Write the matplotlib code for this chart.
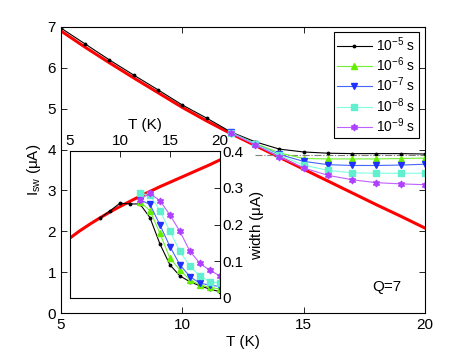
import numpy as np
import matplotlib
matplotlib.use("Agg")
import matplotlib.pyplot as plt

plt.rcParams['font.family'] = ['Liberation Sans', 'DejaVu Sans']
plt.rcParams['mathtext.fontset'] = 'custom'
plt.rcParams['mathtext.rm'] = 'Liberation Sans'
plt.rcParams['mathtext.it'] = 'Liberation Sans:italic'
plt.rcParams['mathtext.default'] = 'regular'

# DATOS
T_full = np.arange(5, 21)
T_hi = np.arange(12, 21)

# curva roja principal (Isw teorica)
isw_red = [6.90, 6.50, 6.12, 5.75, 5.39, 5.03, 4.70, 4.39, 4.10, 3.81,
           3.52, 3.23, 2.94, 2.65, 2.37, 2.08]
# 1e-5 s (desde T = 5)
isw_k = [6.97, 6.58, 6.19, 5.82, 5.46, 5.09, 4.77, 4.43, 4.19, 4.01,
         3.94, 3.91, 3.90, 3.90, 3.90, 3.89]
# desde T = 12
isw_g = [4.42, 4.15, 3.92, 3.78, 3.77, 3.77, 3.77, 3.78, 3.79]
isw_b = [4.42, 4.13, 3.88, 3.71, 3.63, 3.61, 3.61, 3.62, 3.64]
isw_c = [4.41, 4.13, 3.86, 3.62, 3.49, 3.43, 3.42, 3.42, 3.42]
isw_m = [4.40, 4.12, 3.82, 3.55, 3.37, 3.26, 3.19, 3.16, 3.14]
isw_sat = 3.875

# inset: ancho
w_red = [0.163, 0.183, 0.201, 0.218, 0.234, 0.249, 0.263, 0.277, 0.290,
         0.303, 0.315, 0.327, 0.339, 0.351, 0.363, 0.376]
T_wk = np.arange(8, 21)
w_k = [0.217, 0.237, 0.258, 0.256, 0.256, 0.219, 0.147, 0.090, 0.060,
       0.044, 0.033, 0.024, 0.017]
w_g = [0.262, 0.238, 0.176, 0.108, 0.076, 0.049, 0.035, 0.029, 0.024]
w_b = [0.267, 0.255, 0.199, 0.140, 0.090, 0.058, 0.040, 0.035, 0.031]
w_c = [0.285, 0.280, 0.238, 0.181, 0.127, 0.086, 0.060, 0.044, 0.040]
w_m = [0.268, 0.285, 0.265, 0.226, 0.181, 0.127, 0.094, 0.075, 0.060]

labels = [r'10$^{-5}$ s', r'10$^{-6}$ s', r'10$^{-7}$ s', r'10$^{-8}$ s', r'10$^{-9}$ s']
line_cols = ['k', '#70f030', '#4466ff', '#80ffe0', '#c060ff']
mk_cols = ['k', '#66ee00', '#2030ff', '#60f0d0', '#b040ff']
markers = ['.', '^', 'v', 's', (6, 1, 0)]
msizes = [3.5, 5, 5, 4.5, 5]

fig = plt.figure(figsize=(4.69, 3.53), dpi=100)
ax = fig.add_axes([0.130, 0.113, 0.776, 0.811])

ax.plot(T_full, isw_red, color='red', linewidth=2.2, zorder=1)
ax.plot([13, 20], [isw_sat, isw_sat], color='gray', linestyle='-.', linewidth=0.8, zorder=1)

series = [(T_full, isw_k), (T_hi, isw_g), (T_hi, isw_b), (T_hi, isw_c), (T_hi, isw_m)]
for i, (tt, yy) in enumerate(series):
    ax.plot(tt, yy, color=line_cols[i], marker=markers[i], markersize=msizes[i],
            markerfacecolor=mk_cols[i], markeredgecolor=mk_cols[i],
            linewidth=0.8, label=labels[i], zorder=2)

ax.set_xlim(5, 20)
ax.set_ylim(0, 7)
ax.set_xticks([5, 10, 15, 20])
ax.set_yticks(range(0, 8))
ax.tick_params(direction='in', top=True, right=True, labelsize=11, length=4, width=0.6)
ax.set_xlabel('T (K)', fontsize=11, labelpad=2)
ax.set_ylabel(r'I$_{sw}$ ($\mu$A)', fontsize=11, labelpad=3)
ax.text(17.85, 0.64, 'Q=7', fontsize=11, va='center', ha='left')

leg = ax.legend(loc='upper right', bbox_to_anchor=(0.983, 0.983), borderaxespad=0,
                fontsize=10, fancybox=False, edgecolor='k', framealpha=1,
                handlelength=2.5, handletextpad=0.3, labelspacing=0.12,
                borderpad=0.25)
leg.get_frame().set_linewidth(0.8)

# INSET
axi = fig.add_axes([0.149, 0.156, 0.320, 0.416])
axi.plot(T_full, w_red, color='red', linewidth=2.2, zorder=1)
wseries = [(T_wk, w_k), (T_hi, w_g), (T_hi, w_b), (T_hi, w_c), (T_hi, w_m)]
for i, (tt, yy) in enumerate(wseries):
    axi.plot(tt, yy, color=line_cols[i], marker=markers[i], markersize=msizes[i],
             markerfacecolor=mk_cols[i], markeredgecolor=mk_cols[i],
             linewidth=0.8, zorder=2)
axi.set_xlim(5, 20)
axi.set_ylim(0, 0.4)
axi.set_xticks([5, 10, 15, 20])
axi.set_yticks([0, 0.1, 0.2, 0.3, 0.4])
axi.set_yticklabels(['0', '0.1', '0.2', '0.3', '0.4'])
axi.xaxis.tick_top()
axi.xaxis.set_label_position('top')
axi.yaxis.tick_right()
axi.yaxis.set_label_position('right')
axi.tick_params(direction='in', labelsize=11, length=4, width=0.6, pad=2)
axi.set_xlabel('T (K)', fontsize=11, labelpad=4)
axi.set_ylabel(r'width ($\mu$A)', fontsize=11, labelpad=3)

fig.savefig('out.png', dpi=100)
